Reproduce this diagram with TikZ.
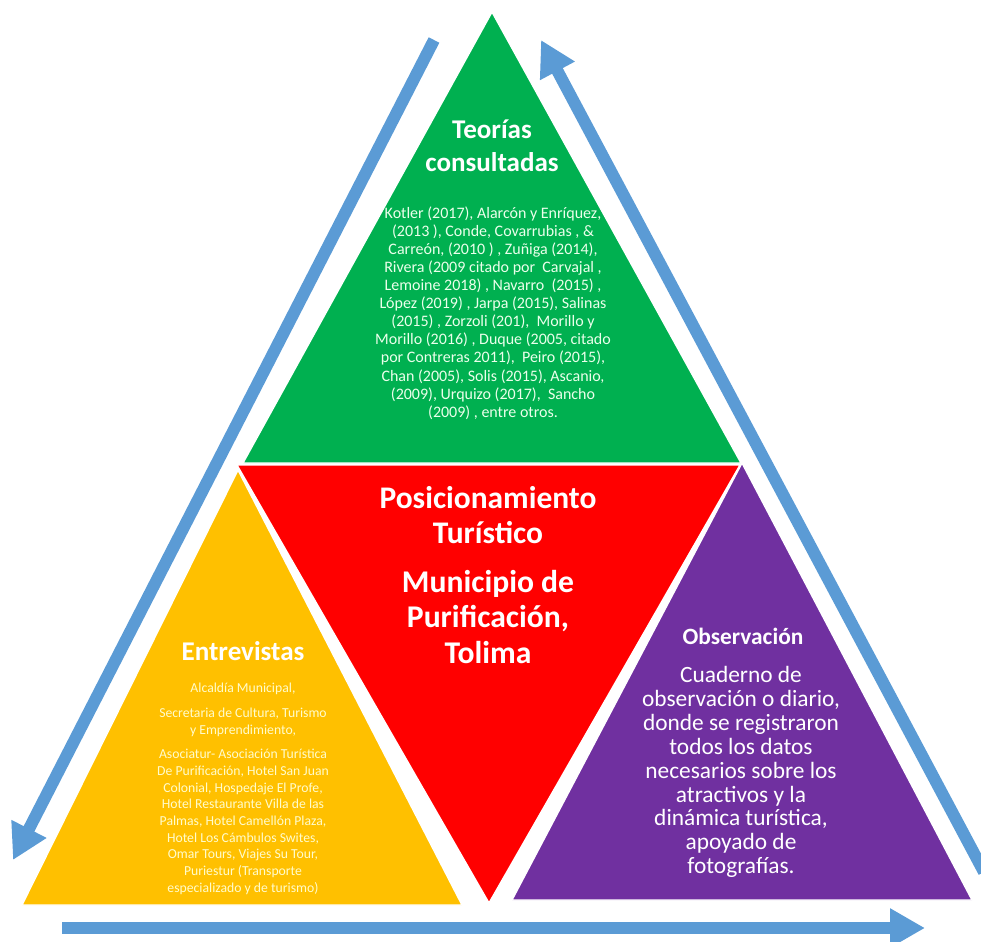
\documentclass[tikz,border=0pt]{standalone}
\usepackage{fontspec}
\setmainfont{Carlito}
\usetikzlibrary{arrows.meta}
\definecolor{teogreen}{HTML}{00B050}
\definecolor{posred}{HTML}{FF0000}
\definecolor{entyellow}{HTML}{FFC000}
\definecolor{obspurple}{HTML}{7030A0}
\definecolor{flowblue}{HTML}{5B9BD5}
\begin{document}
\begin{tikzpicture}[x=0.02cm,y=-0.02cm,
	face/.style={draw=white,line width=0.8pt},
	flow/.style={line width=0.24cm,color=flowblue,-{Triangle[length=0.7cm,width=0.74cm]}},
	headtext/.style={text=white,align=center,inner sep=0pt},
	smalltext/.style={align=center,inner sep=0pt}]
		\useasboundingbox (0,0) rectangle (981,941);
		
		%triangles
		\path[fill=teogreen,face] (492,12) -- (741,463) -- (243,463) -- cycle;
		\path[fill=posred,face] (237,465) -- (740,465) -- (489,903) -- cycle;
		\path[fill=entyellow,face] (238,470) -- (462,905) -- (22,905) -- cycle;
		\path[fill=obspurple,face] (742,463) -- (972,900) -- (512,900) -- cycle;
		%teorias
		\node[headtext,font=\fontsize{15.4}{18.7}\selectfont\bfseries](teotitle) at (492,146) {Teorías\\consultadas};
		\node[smalltext,text=green!8!white,font=\fontsize{9.1}{10.3}\selectfont](teobody) at (493,313) {Kotler (2017), Alarcón y Enríquez,\\(2013 ), Conde, Covarrubias , \&\\Carreón, (2010 ) , Zuñiga (2014),\\Rivera (2009 citado por~ Carvajal ,\\Lemoine 2018) , Navarro~ (2015) ,\\López (2019) , Jarpa (2015), Salinas\\(2015) , Zorzoli (201),~ Morillo y\\Morillo (2016) , Duque (2005, citado\\por Contreras 2011),~ Peiro (2015),\\Chan (2005), Solis (2015), Ascanio,\\(2009), Urquizo (2017),~ Sancho\\(2009) , entre otros.};
		%posicionamiento
		\node[headtext,font=\fontsize{17.9}{20}\selectfont\bfseries](postitle) at (488,515) {Posicionamiento\\Turístico};
		\node[headtext,font=\fontsize{18}{20.4}\selectfont\bfseries](posplace) at (488,617) {Municipio de\\Purificación,\\Tolima};
		%entrevistas
		\node[headtext,font=\fontsize{15.4}{17}\selectfont\bfseries](enttitle) at (243,651) {Entrevistas};
		\node[smalltext,text=yellow!20!white,font=\fontsize{7.8}{9.5}\selectfont](entbody) at (243,789) {Alcaldía Municipal,\\[4.5pt]Secretaria de Cultura, Turismo\\y Emprendimiento,\\[4.5pt]Asociatur- Asociación Turística\\De Purificación, Hotel San Juan\\Colonial, Hospedaje El Profe,\\Hotel Restaurante Villa de las\\Palmas, Hotel Camellón Plaza,\\Hotel Los Cámbulos Swites,\\Omar Tours, Viajes Su Tour,\\Puriestur (Transporte\\especializado y de turismo)};
		%observacion
		\node[headtext,font=\fontsize{13.3}{15}\selectfont\bfseries](obstitle) at (743,636) {Observación};
		\node[headtext,font=\fontsize{13.3}{13.6}\selectfont](obsbody) at (741,772) {Cuaderno de\\observación o diario,\\donde se registraron\\todos los datos\\necesarios sobre los\\atractivos y la\\dinámica turística,\\apoyado de\\fotografías.};
		%arrows
		\coordinate (lefttop) at (434,40);
		\coordinate (lefttip) at (13,860);
		\coordinate (rightfoot) at (984,872);
		\coordinate (righttip) at (541,40);
		\coordinate (bottomstart) at (62,928);
		\coordinate (bottomtip) at (925,928);
		\draw[flow] (lefttop) -- (lefttip);
		\draw[flow] (rightfoot) -- (righttip);
		\draw[flow] (bottomstart) -- (bottomtip);
\end{tikzpicture}
\end{document}
